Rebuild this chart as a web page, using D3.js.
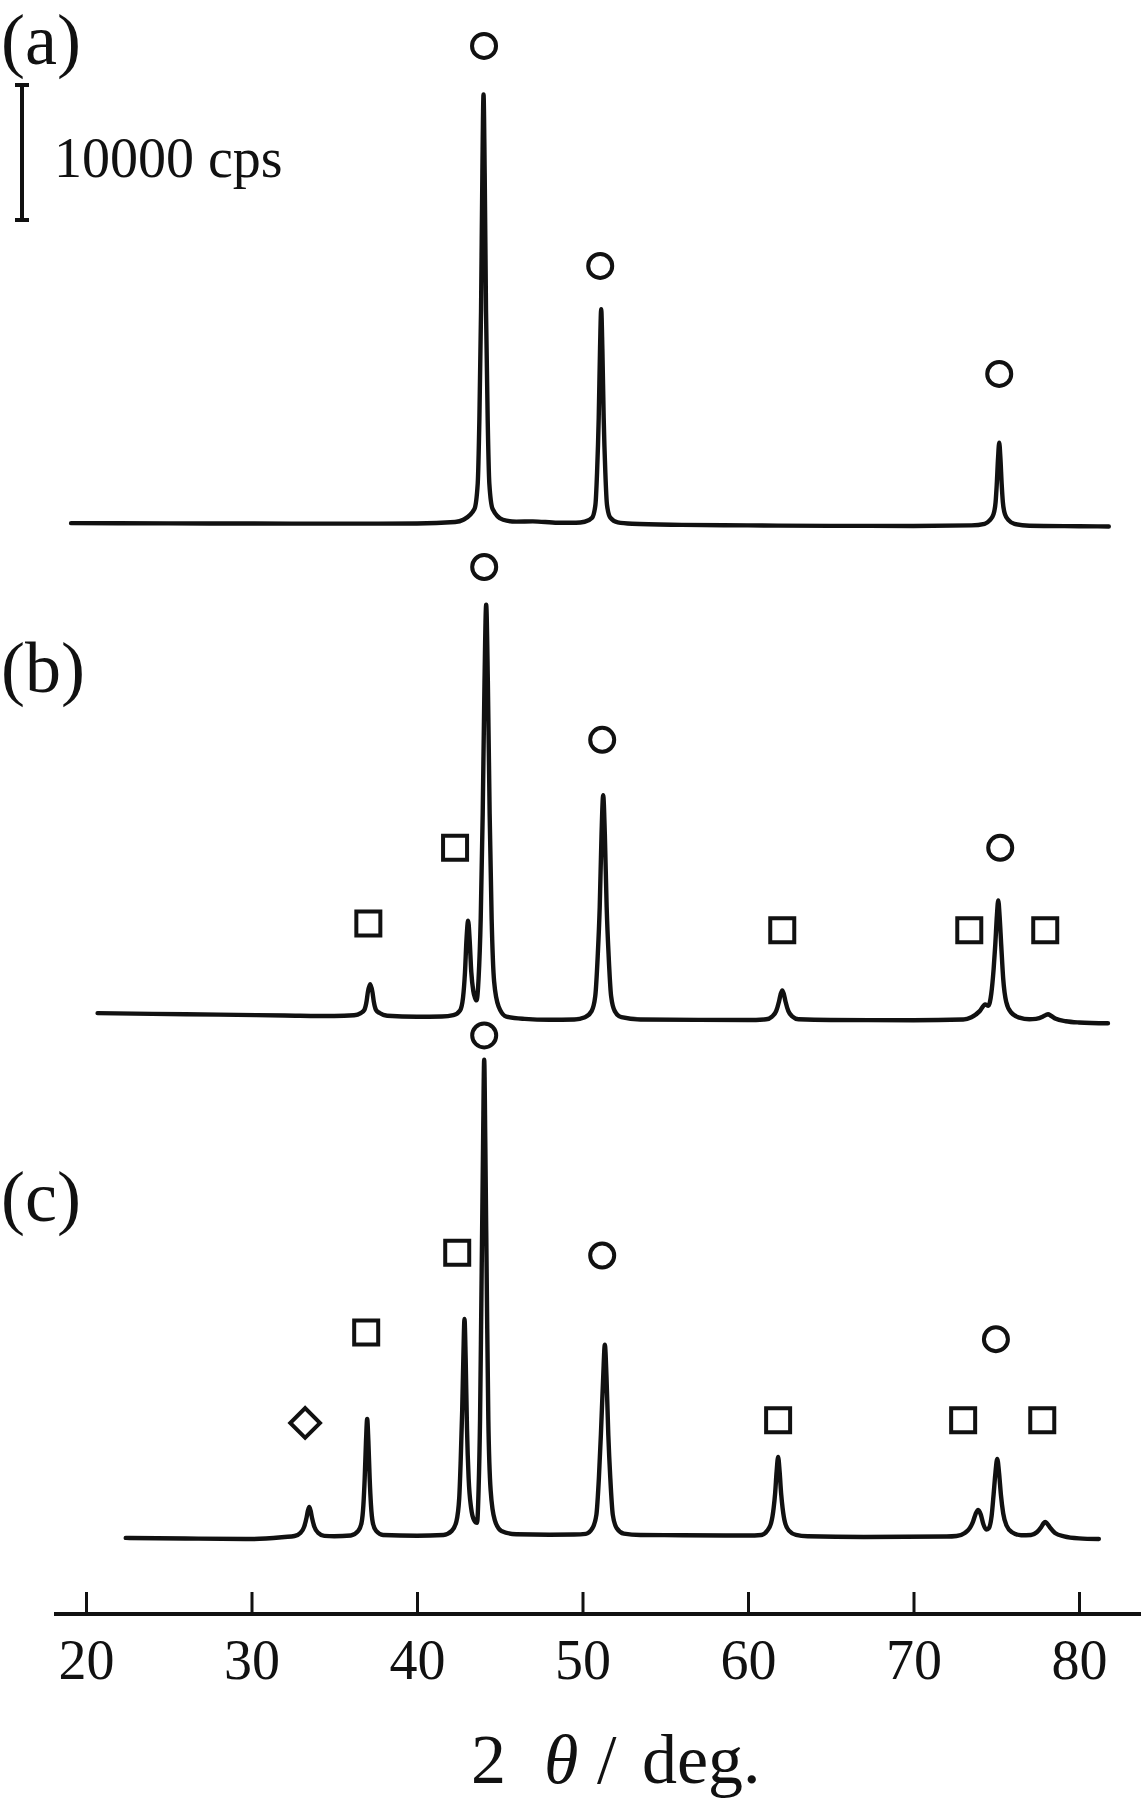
<!DOCTYPE html>
<html>
<head>
<meta charset="utf-8">
<script src="https://cdn.jsdelivr.net/npm/d3@7"></script>
<style>
  html, body { margin: 0; padding: 0; background: #fff; }
  svg { display: block; }
  text { font-family: "Liberation Serif", "Times New Roman", serif; fill: #111; }
</style>
</head>
<body>
<div id="chart"></div>
<script>
// ---------------- DATA (2θ in degrees, intensity in cps) ----------------
const xTicks = [20, 30, 40, 50, 60, 70, 80];
const panelLabels = ["(a)", "(b)", "(c)"];
const scaleBarLabel = "10000 cps";
const scaleBarCps = 10000;

// (a) pattern: [2θ, cps]
const patternA = [
  [19.1, 250], [25, 230], [30, 220], [35, 210], [40, 220], [42.3, 330], [42.8, 500],
  [43.47, 1300], [43.67, 3200], [43.77, 8000], [43.87, 16000], [43.95, 26200], [44.02, 32000],
  [44.09, 26200], [44.17, 16000], [44.27, 8000], [44.37, 3200], [44.57, 1300], [45.2, 500],
  [46.0, 360], [47.0, 380], [48.5, 280], [49.6, 280], [50.13, 350], [50.58, 650],
  [50.78, 1600], [50.88, 4000], [50.98, 8050], [51.06, 13200], [51.13, 16100], [51.2, 13200],
  [51.28, 8050], [51.38, 4000], [51.48, 1600], [51.68, 650], [52.13, 300], [53, 200],
  [56, 120], [60, 80], [65, 50], [70, 40], [73.5, 80], [74.3, 200], [74.6, 450],
  [74.83, 900], [74.96, 1800], [75.03, 3100], [75.11, 5100], [75.18, 6200], [75.25, 5100],
  [75.33, 3100], [75.4, 1800], [75.53, 900], [75.76, 450], [76.1, 200], [77, 60],
  [80, 20], [81.8, 0]
];

// (b) pattern
const patternB = [
  [20.7, 750], [24, 700], [28, 640], [32, 580], [35, 540], [36.2, 600], [36.6, 760],
  [36.82, 1000], [36.95, 1600], [37.03, 2300], [37.17, 2900], [37.31, 2300], [37.39, 1600],
  [37.52, 1000], [37.74, 760], [38.2, 560], [40, 480], [41.5, 500], [42.2, 600],
  [42.6, 950], [42.78, 1900], [42.9, 3800], [42.99, 6200], [43.09, 7600], [43.18, 6200],
  [43.28, 3800], [43.4, 2400], [43.5, 1900], [43.6, 1700], [43.72, 3300], [43.85, 7750],
  [43.97, 15500], [44.08, 25400], [44.18, 31000], [44.28, 25400], [44.39, 15500],
  [44.51, 7750], [44.66, 3100], [44.93, 1250], [45.4, 500], [46.5, 330], [48, 260],
  [49.5, 280], [50.15, 450], [50.55, 900], [50.77, 2000], [50.92, 5000], [51.04, 8600],
  [51.15, 14000], [51.25, 16900], [51.35, 14000], [51.46, 8600], [51.58, 5000],
  [51.73, 2000], [51.95, 900], [52.35, 450], [53.5, 280], [57, 250], [60, 240],
  [61.1, 300], [61.45, 500], [61.7, 900], [61.87, 1600], [61.97, 2150], [62.07, 2440],
  [62.17, 2150], [62.27, 1600], [62.44, 900], [62.69, 500], [63.05, 300], [65, 240],
  [70, 230], [73.0, 280], [73.5, 450], [74.0, 900], [74.33, 1400], [74.52, 1300],
  [74.7, 2200], [74.84, 4000], [74.94, 5800], [75.04, 8000], [75.12, 9100], [75.2, 8000],
  [75.3, 5800], [75.42, 3300], [75.6, 1600], [75.9, 800], [76.4, 420], [77.0, 300],
  [77.4, 330], [77.8, 480], [78.0, 620], [78.13, 670], [78.3, 560], [78.6, 330],
  [79.2, 150], [80, 60], [81.75, 0]
];

// (c) pattern
const patternC = [
  [22.4, 80], [26, 40], [30, 0], [32.0, 150], [32.6, 220], [32.95, 450], [33.18, 900],
  [33.33, 1600], [33.41, 2100], [33.49, 2370], [33.57, 2100], [33.65, 1600], [33.8, 900],
  [34.03, 450], [34.4, 230], [35, 200], [36.0, 260], [36.45, 600], [36.65, 1200],
  [36.76, 2500], [36.84, 4500], [36.92, 7300], [36.99, 8900], [37.06, 7300], [37.14, 4500],
  [37.22, 2500], [37.33, 1200], [37.53, 600], [37.95, 300], [40, 240], [41.6, 300],
  [42.1, 600], [42.38, 1300], [42.55, 3000], [42.64, 5800], [42.73, 9500], [42.8, 13400],
  [42.87, 16300], [42.94, 13400], [43.02, 8200], [43.12, 4500], [43.27, 2300],
  [43.45, 1400], [43.63, 1200], [43.72, 3600], [43.81, 8900], [43.89, 17750],
  [43.99, 29000], [44.06, 35500], [44.13, 29000], [44.225, 17750], [44.31, 8900],
  [44.45, 3600], [44.7, 1400], [45.1, 600], [46, 350], [48, 320], [49.5, 330],
  [50.2, 380], [50.6, 800], [50.84, 1800], [50.99, 4500], [51.11, 7700], [51.25, 12000],
  [51.35, 14400], [51.45, 12000], [51.56, 7700], [51.68, 4500], [51.83, 1800],
  [52.07, 800], [52.5, 400], [53.5, 300], [56, 280], [60, 260], [60.8, 300], [61.15, 600],
  [61.4, 1200], [61.55, 2300], [61.64, 3400], [61.73, 5000], [61.82, 6070], [61.91, 5000],
  [62.0, 3400], [62.09, 2300], [62.24, 1200], [62.49, 600], [62.9, 300], [63.6, 200],
  [67, 150], [72, 180], [72.6, 220], [73.1, 450], [73.4, 800], [73.6, 1300], [73.75, 1850],
  [73.91, 2150], [74.07, 1800], [74.22, 1100], [74.4, 700], [74.55, 800], [74.72, 1700],
  [74.84, 3300], [74.95, 4900], [75.06, 5930], [75.17, 4900], [75.28, 3300], [75.42, 1900],
  [75.62, 1000], [75.95, 500], [76.5, 280], [77.1, 300], [77.45, 500], [77.7, 850],
  [77.85, 1150], [77.96, 1260], [78.07, 1150], [78.25, 850], [78.55, 450], [79.1, 200],
  [80, 50], [81.2, 0]
];

// phase markers: [2θ, cps level above the pattern's own zero, symbol]
const markersA = [
  [44.05, 35600, "circle"], [51.07, 19300, "circle"], [75.18, 11300, "circle"]
];
const markersB = [
  [44.06, 33800, "circle"], [42.3, 13000, "square"], [37.06, 7400, "square"],
  [51.19, 21000, "circle"], [62.07, 6900, "square"], [73.37, 6900, "square"],
  [75.24, 13000, "circle"], [77.96, 6900, "square"]
];
const markersC = [
  [33.24, 8600, "diamond"], [36.93, 15300, "square"], [42.43, 21200, "square"],
  [44.06, 37300, "circle"], [51.19, 21000, "circle"], [61.82, 8800, "square"],
  [73.0, 8800, "square"], [74.98, 14800, "circle"], [77.78, 8800, "square"]
];

// ---------------- LAYOUT ----------------
const W = 1144, H = 1800;
const stackOffsets = [75000, 38200, 0];   // vertical stacking of the patterns, in cps
const patterns = [patternA, patternB, patternC];
const markerSets = [markersA, markersB, markersC];

const svg = d3.select("#chart").append("svg")
  .attr("width", W).attr("height", H).attr("viewBox", `0 0 ${W} ${H}`);

const x = d3.scaleLinear().domain([20, 80]).range([86, 1079]);
const y = d3.scaleLinear().domain([0, 10000]).range([1539, 1404]);

const line = d3.line()
  .x(d => x(d[0]))
  .y(d => d[2])
  .curve(d3.curveMonotoneX);

// traces
patterns.forEach((p, i) => {
  const pts = p.map(d => [d[0], d[1], y(d[1] + stackOffsets[i])]);
  svg.append("path")
    .attr("d", line(pts))
    .attr("fill", "none")
    .attr("stroke", "#111")
    .attr("stroke-width", 4.4)
    .attr("stroke-linejoin", "round")
    .attr("stroke-linecap", "round");
});

// markers
const symbolFor = {
  circle: d3.symbol().type(d3.symbolCircle).size(Math.PI * 12 * 12),
  square: d3.symbol().type(d3.symbolSquare).size(24 * 24),
  diamond: d3.symbol().type(d3.symbolSquare).size(21 * 21)
};
markerSets.forEach((ms, i) => {
  svg.append("g").selectAll("path").data(ms).join("path")
    .attr("d", d => symbolFor[d[2]]())
    .attr("transform", d => `translate(${x(d[0])},${y(d[1] + stackOffsets[i])})` + (d[2] === "diamond" ? " rotate(45)" : ""))
    .attr("fill", "none")
    .attr("stroke", "#111")
    .attr("stroke-width", 4);
});

// panel labels
const labelBaselines = [64, 692, 1221];
panelLabels.forEach((t, i) => {
  svg.append("text").attr("x", 1).attr("y", labelBaselines[i])
    .attr("font-size", 72).text(t);
});

// scale bar (10000 cps)
const barTop = 85;
const barLen = y(0) - y(scaleBarCps);
const bar = svg.append("g").attr("stroke", "#111").attr("stroke-width", 4);
bar.append("line").attr("x1", 22).attr("x2", 22).attr("y1", barTop).attr("y2", barTop + barLen);
bar.append("line").attr("x1", 15).attr("x2", 29).attr("y1", barTop).attr("y2", barTop);
bar.append("line").attr("x1", 15).attr("x2", 29).attr("y1", barTop + barLen).attr("y2", barTop + barLen);
svg.append("text").attr("x", 54).attr("y", 177).attr("font-size", 56).text(scaleBarLabel);

// x axis
const axisY = 1614;
svg.append("line").attr("x1", 54).attr("x2", 1141).attr("y1", axisY).attr("y2", axisY)
  .attr("stroke", "#111").attr("stroke-width", 4);
const axis = d3.axisBottom(x).tickValues(xTicks).tickFormat(d3.format("d"))
  .tickSizeInner(-22).tickSizeOuter(0).tickPadding(25);
const gAxis = svg.append("g").attr("transform", `translate(0,${axisY})`).call(axis);
gAxis.select(".domain").remove();
gAxis.selectAll(".tick line").attr("stroke", "#111").attr("stroke-width", 3);
gAxis.selectAll(".tick text")
  .attr("font-family", '"Liberation Serif", "Times New Roman", serif')
  .attr("font-size", 56).attr("fill", "#111");

// axis title: 2θ / deg.
const title = svg.append("text").attr("y", 1783).attr("font-size", 70);
title.append("tspan").attr("x", 471).text("2");
title.append("tspan").attr("x", 544).attr("font-style", "italic").text("θ");
title.append("tspan").attr("x", 597).text("/");
title.append("tspan").attr("x", 642).text("deg.");
</script>
</body>
</html>
